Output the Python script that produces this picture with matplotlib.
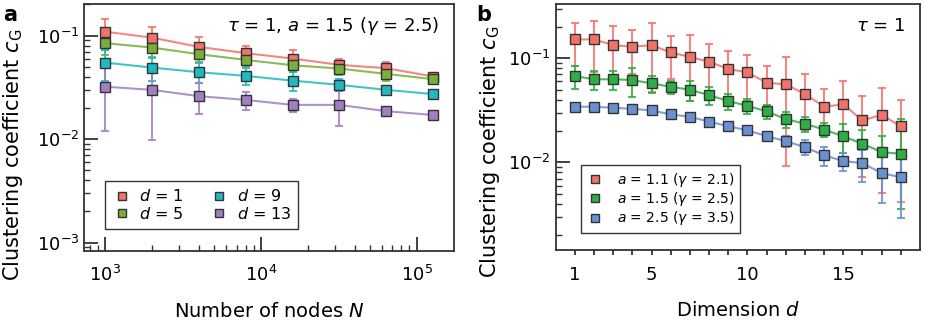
import numpy as np
import matplotlib
matplotlib.use('Agg')
import matplotlib.pyplot as plt
from matplotlib.lines import Line2D
from matplotlib.ticker import LogLocator, FixedLocator, NullFormatter

# panel a: clustering vs number of nodes
N = [1000, 2000, 4000, 8000, 16000, 32000, 64000, 128000]
d_labels = ['1', '5', '9', '13']
c_d1 = [0.109, 0.0956, 0.0778, 0.0676, 0.060, 0.0521, 0.0484, 0.0402]
c_d5 = [0.0845, 0.0766, 0.0661, 0.0582, 0.0517, 0.048, 0.0426, 0.0379]
c_d9 = [0.0548, 0.0491, 0.0443, 0.0408, 0.0367, 0.0334, 0.0299, 0.0272]
c_d13 = [0.0321, 0.0299, 0.0260, 0.0239, 0.0214, 0.0214, 0.0186, 0.0171]
e_d1 = [0.036, 0.026, 0.019, 0.012, 0.012, 0.007, 0.007, 0.003]
e_d5 = [0.019, 0.016, 0.011, 0.008, 0.007, 0.006, 0.006, 0.003]
e_d9 = [0.018, 0.013, 0.0098, 0.0077, 0.0075, 0.0045, 0.0025, 0.0015]
e_d13 = [0.020, 0.020, 0.0085, 0.0049, 0.003, 0.008, 0.001, 0.0008]

# panel b: clustering vs dimension
dims = list(range(1, 19))
c_a11 = [0.152, 0.152, 0.134, 0.129, 0.134, 0.114, 0.103, 0.0928, 0.0789,
         0.0733, 0.0583, 0.0562, 0.0454, 0.0343, 0.0361, 0.0253, 0.0287, 0.0222]
c_a15 = [0.0676, 0.0628, 0.063, 0.0618, 0.0574, 0.0533, 0.0499, 0.0443, 0.0388,
         0.035, 0.0309, 0.0261, 0.0235, 0.0207, 0.0178, 0.0151, 0.01256, 0.0121]
c_a25 = [0.0343, 0.0343, 0.0335, 0.0327, 0.0316, 0.0289, 0.0275, 0.0246, 0.0223,
         0.0203, 0.0179, 0.016, 0.014, 0.0117, 0.0103, 0.00984, 0.00788, 0.00722]
e_a11 = [0.068, 0.078, 0.072, 0.058, 0.086, 0.051, 0.064, 0.045, 0.039,
         0.034, 0.027, 0.047, 0.025, 0.016, 0.025, 0.018, 0.0236, 0.018]
e_a15_lo = [0.0167, 0.013, 0.013, 0.0195, 0.011, 0.0077, 0.011, 0.009, 0.0066,
            0.0056, 0.0047, 0.0046, 0.004, 0.003, 0.0055, 0.0056, 0.0055, 0.0085]
e_a15_hi = [0.0167, 0.013, 0.013, 0.0195, 0.011, 0.0077, 0.011, 0.009, 0.0066,
            0.0056, 0.0047, 0.0046, 0.004, 0.003, 0.0055, 0.0056, 0.0055, 0.0142]
e_a25 = [0.0008, 0.0008, 0.0008, 0.0008, 0.0008, 0.0008, 0.0008, 0.0008, 0.0008,
         0.0009, 0.001, 0.002, 0.0023, 0.0024, 0.002, 0.0033, 0.0038, 0.0043]
a_labels = ['1.1 ($\\gamma$ = 2.1)', '1.5 ($\\gamma$ = 2.5)', '2.5 ($\\gamma$ = 3.5)']

cols_a = ['#f0736b', '#7aad3a', '#1fb9c0', '#a080c0']
cols_b = ['#f0736b', '#2eae45', '#6a90d0']
edge = '#333333'

plt.rcParams['font.family'] = 'DejaVu Sans'
plt.rcParams['mathtext.fontset'] = 'dejavusans'
plt.rcParams['axes.edgecolor'] = edge
plt.rcParams['axes.linewidth'] = 1.3

fig = plt.figure(figsize=(9.25, 3.3), dpi=100)
ax1 = fig.add_axes([0.0908, 0.2394, 0.400, 0.7486])
ax2 = fig.add_axes([0.6008, 0.2424, 0.3938, 0.7456])

#%% panel a
for c, e, col in zip([c_d1, c_d5, c_d9, c_d13], [e_d1, e_d5, e_d9, e_d13], cols_a):
    ax1.errorbar(N, c, yerr=e, fmt='-', color=col, lw=1.5, ecolor=col, elinewidth=1.5,
                 capsize=3, capthick=1.5, alpha=0.85)
    ax1.plot(N, c, 's', color=col, mec=edge, mew=1.0, ms=6.5, zorder=5)
ax1.set_xscale('log')
ax1.set_yscale('log')
ax1.set_xlim(733, 1.74e5)
ax1.set_ylim(8.3e-4, 0.202)
ax1.xaxis.set_minor_locator(LogLocator(base=10, subs=np.arange(2, 10)))
ax1.yaxis.set_minor_locator(LogLocator(base=10, subs=np.arange(2, 10)))
ax1.xaxis.set_minor_formatter(NullFormatter())
ax1.yaxis.set_minor_formatter(NullFormatter())
ax1.tick_params(which='major', direction='in', length=10, width=1.3, color=edge, labelsize=13)
ax1.tick_params(which='minor', direction='in', length=4, width=1.0, color=edge)
ax1.tick_params(axis='x', which='major', pad=10)
ax1.set_xlabel('Number of nodes $N$', fontsize=14, labelpad=12)
ax1.set_ylabel('Clustering coefficient $c_{\\mathrm{G}}$', fontsize=15)
ax1.yaxis.set_label_coords(-0.159, 0.389)
ax1.text(0.96, 0.91, '$\\tau$ = 1, $a$ = 1.5 ($\\gamma$ = 2.5)', transform=ax1.transAxes,
         ha='right', va='center', fontsize=13)
h1 = [Line2D([], [], ls='none', marker='s', color=col, mec=edge, mew=1.0, ms=6) for col in cols_a]
lg1 = ax1.legend(h1, ['$d$ = ' + s for s in d_labels], ncol=2, loc='lower left',
                 bbox_to_anchor=(0.057, 0.089), borderaxespad=0, fontsize=11.5,
                 fancybox=False, edgecolor=edge, framealpha=1, handletextpad=0.5,
                 columnspacing=1.6, handlelength=1.2, borderpad=0.45, labelspacing=0.1)
lg1.get_frame().set_linewidth(1.0)

#%% panel b
for c, elo, ehi, col in zip([c_a11, c_a15, c_a25], [e_a11, e_a15_lo, e_a25],
                            [e_a11, e_a15_hi, e_a25], cols_b):
    ax2.errorbar(dims, c, yerr=[elo, ehi], fmt='-', color=col, lw=1.5, ecolor=col,
                 elinewidth=1.5, capsize=3, capthick=1.5, alpha=0.85)
    ax2.plot(dims, c, 's', color=col, mec=edge, mew=1.0, ms=6.5, zorder=5)
ax2.set_yscale('log')
ax2.set_xlim(0, 19)
ax2.set_ylim(0.00144, 0.333)
ax2.set_xticks([1, 5, 10, 15])
ax2.xaxis.set_minor_locator(FixedLocator(dims))
ax2.yaxis.set_minor_locator(LogLocator(base=10, subs=np.arange(2, 10)))
ax2.yaxis.set_minor_formatter(NullFormatter())
ax2.tick_params(axis='x', which='both', direction='out', length=3.5, width=1.3, color=edge,
                labelsize=13, pad=8)
ax2.tick_params(axis='y', which='major', direction='in', length=10, width=1.3, color=edge,
                labelsize=13)
ax2.tick_params(axis='y', which='minor', direction='in', length=4, width=1.0, color=edge)
ax2.set_xlabel('Dimension $d$', fontsize=14, labelpad=12)
ax2.set_ylabel('Clustering coefficient $c_{\\mathrm{G}}$', fontsize=15)
ax2.yaxis.set_label_coords(-0.147, 0.40)
ax2.text(0.96, 0.91, '$\\tau$ = 1', transform=ax2.transAxes,
         ha='right', va='center', fontsize=13)
h2 = [Line2D([], [], ls='none', marker='s', color=col, mec=edge, mew=1.0, ms=6) for col in cols_b]
lg2 = ax2.legend(h2, ['$a$ = ' + s for s in a_labels], loc='lower left',
                 bbox_to_anchor=(0.0686, 0.069), borderaxespad=0, fontsize=10,
                 fancybox=False, edgecolor=edge, framealpha=1, handletextpad=1.0,
                 handlelength=1.2, borderpad=0.4, labelspacing=0.1)
lg2.get_frame().set_linewidth(1.0)

fig.text(0.003, 0.985, 'a', fontsize=15, fontweight='bold', va='top', ha='left')
fig.text(0.515, 0.985, 'b', fontsize=15, fontweight='bold', va='top', ha='left')

fig.savefig('out.png', dpi=100)
